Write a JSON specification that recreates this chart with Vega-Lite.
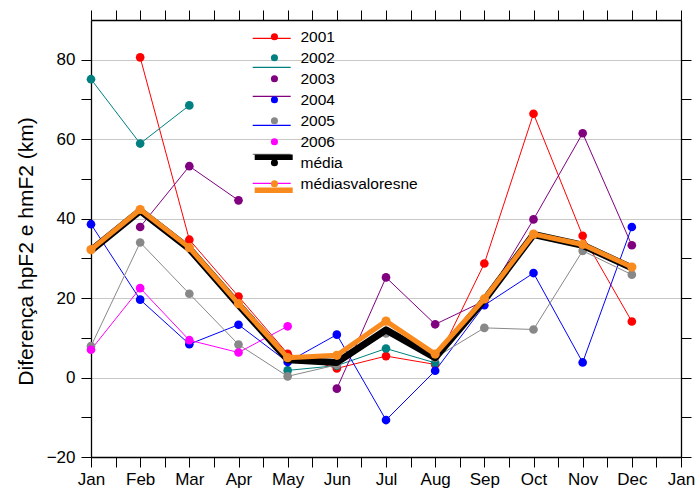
{
  "$schema": "https://vega.github.io/schema/vega-lite/v6.json",
  "width": 590,
  "height": 437,
  "autosize": "none",
  "padding": {"left": 91, "top": 20, "right": 15, "bottom": 33},
  "background": "white",
  "config": {
    "view": {"stroke": null},
    "font": "Liberation Sans",
    "axis": {
      "labelFont": "Liberation Sans",
      "labelColor": "black",
      "labelFontSize": 17,
      "tickColor": "black",
      "tickWidth": 1,
      "tickSize": 10,
      "domainColor": "black",
      "domainWidth": 1.3,
      "labelOverlap": false,
      "labelFlush": false,
      "labelBound": false
    },
    "legend": {"labelFont": "Liberation Sans"}
  },
  "datasets": {
    "d": [
      {"s": "2001", "m": 2, "v": 80.6}, {"s": "2001", "m": 3, "v": 34.7}, {"s": "2001", "m": 4, "v": 20.4},
      {"s": "2001", "m": 5, "v": 6.0}, {"s": "2001", "m": 6, "v": 2.3}, {"s": "2001", "m": 7, "v": 5.4},
      {"s": "2001", "m": 8, "v": 3.3}, {"s": "2001", "m": 9, "v": 28.7}, {"s": "2001", "m": 10, "v": 66.4},
      {"s": "2001", "m": 11, "v": 35.7}, {"s": "2001", "m": 12, "v": 14.1},
      {"s": "2002", "g": "a", "m": 1, "v": 75.1}, {"s": "2002", "g": "a", "m": 2, "v": 58.9}, {"s": "2002", "g": "a", "m": 3, "v": 68.5},
      {"s": "2002", "g": "b", "m": 5, "v": 1.8}, {"s": "2002", "g": "b", "m": 6, "v": 3.0},
      {"s": "2002", "g": "b", "m": 7, "v": 7.3}, {"s": "2002", "g": "b", "m": 8, "v": 3.7},
      {"s": "2003", "g": "a", "m": 2, "v": 37.9}, {"s": "2003", "g": "a", "m": 3, "v": 53.2}, {"s": "2003", "g": "a", "m": 4, "v": 44.6},
      {"s": "2003", "g": "b", "m": 6, "v": -2.8}, {"s": "2003", "g": "b", "m": 7, "v": 25.2},
      {"s": "2003", "g": "b", "m": 8, "v": 13.4}, {"s": "2003", "g": "b", "m": 9, "v": 19.3}, {"s": "2003", "g": "b", "m": 10, "v": 39.8},
      {"s": "2003", "g": "b", "m": 11, "v": 61.5}, {"s": "2003", "g": "b", "m": 12, "v": 33.3},
      {"s": "2004", "m": 1, "v": 38.6}, {"s": "2004", "m": 2, "v": 19.6}, {"s": "2004", "m": 3, "v": 8.4},
      {"s": "2004", "m": 4, "v": 13.3}, {"s": "2004", "m": 5, "v": 3.9}, {"s": "2004", "m": 6, "v": 10.8},
      {"s": "2004", "m": 7, "v": -10.7}, {"s": "2004", "m": 8, "v": 1.7}, {"s": "2004", "m": 9, "v": 18.2},
      {"s": "2004", "m": 10, "v": 26.3}, {"s": "2004", "m": 11, "v": 3.8}, {"s": "2004", "m": 12, "v": 37.9},
      {"s": "2005", "m": 1, "v": 7.9}, {"s": "2005", "m": 2, "v": 34.0}, {"s": "2005", "m": 3, "v": 21.1},
      {"s": "2005", "m": 4, "v": 8.3}, {"s": "2005", "m": 5, "v": 0.3}, {"s": "2005", "m": 6, "v": 3.2},
      {"s": "2005", "m": 7, "v": 11.1}, {"s": "2005", "m": 8, "v": 5.0}, {"s": "2005", "m": 9, "v": 12.5},
      {"s": "2005", "m": 10, "v": 12.1}, {"s": "2005", "m": 11, "v": 31.9}, {"s": "2005", "m": 12, "v": 25.9},
      {"s": "2006", "m": 1, "v": 7.0}, {"s": "2006", "m": 2, "v": 22.5}, {"s": "2006", "m": 3, "v": 9.4},
      {"s": "2006", "m": 4, "v": 6.3}, {"s": "2006", "m": 5, "v": 12.9},
      {"s": "média", "m": 1, "v": 32.0}, {"s": "média", "m": 2, "v": 42.0}, {"s": "média", "m": 3, "v": 32.4},
      {"s": "média", "m": 4, "v": 18.3}, {"s": "média", "m": 5, "v": 4.5}, {"s": "média", "m": 6, "v": 3.8},
      {"s": "média", "m": 7, "v": 12.0}, {"s": "média", "m": 8, "v": 5.0}, {"s": "média", "m": 9, "v": 19.5},
      {"s": "média", "m": 10, "v": 36.0}, {"s": "média", "m": 11, "v": 33.3}, {"s": "média", "m": 12, "v": 27.6},
      {"s": "médiasvaloresne", "m": 1, "v": 32.2}, {"s": "médiasvaloresne", "m": 2, "v": 42.3},
      {"s": "médiasvaloresne", "m": 3, "v": 32.7}, {"s": "médiasvaloresne", "m": 4, "v": 18.6},
      {"s": "médiasvaloresne", "m": 5, "v": 5.0}, {"s": "médiasvaloresne", "m": 6, "v": 5.6},
      {"s": "médiasvaloresne", "m": 7, "v": 14.2}, {"s": "médiasvaloresne", "m": 8, "v": 5.9},
      {"s": "médiasvaloresne", "m": 9, "v": 19.8}, {"s": "médiasvaloresne", "m": 10, "v": 36.1},
      {"s": "médiasvaloresne", "m": 11, "v": 33.5}, {"s": "médiasvaloresne", "m": 12, "v": 27.8}
    ]
  },
  "data": {"name": "d"},
  "encoding": {
    "x": {"field": "m", "type": "quantitative", "scale": {"domain": [1, 13], "nice": false, "zero": false}, "axis": null},
    "y": {"field": "v", "type": "quantitative", "scale": {"domain": [-20, 90], "nice": false, "zero": false}, "axis": null}
  },
  "layer": [
    {
      "transform": [{"filter": "length(datum.s) === 4"}],
      "mark": {"type": "line", "strokeWidth": 1},
      "encoding": {
        "x": {
          "field": "m", "type": "quantitative",
          "axis": {
            "orient": "bottom",
            "values": [1, 1.5, 2, 2.5, 3, 3.5, 4, 4.5, 5, 5.5, 6, 6.5, 7, 7.5, 8, 8.5, 9, 9.5, 10, 10.5, 11, 11.5, 12, 12.5, 13],
            "labelExpr": "datum.value % 1 === 0 ? ['Jan','Feb','Mar','Apr','May','Jun','Jul','Aug','Sep','Oct','Nov','Dec','Jan'][datum.value - 1] : ''",
            "labelPadding": 4,
            "grid": false,
            "title": null,
            "encode": {"ticks": {"update": {"y2": {"signal": "datum.value % 1 === 0 ? 10 : 5.5"}}}}
          }
        },
        "y": {
          "field": "v", "type": "quantitative",
          "axis": {
            "orient": "left",
            "values": [-20, -10, 0, 10, 20, 30, 40, 50, 60, 70, 80],
            "labelExpr": "datum.value % 20 === 0 ? datum.label : ''",
            "labelPadding": 6,
            "grid": true,
            "gridColor": "#c8c8c8",
            "gridWidth": 1,
            "gridOpacity": {"condition": {"test": "datum.value % 20 === 0 && datum.value > -20", "value": 1}, "value": 0},
            "title": "Diferença hpF2 e hmF2 (km)",
            "titleFont": "Liberation Sans",
            "titleFontSize": 21,
            "titleFontWeight": "normal",
            "titleColor": "black",
            "titleAngle": -90,
            "titleAlign": "center",
            "titleBaseline": "alphabetic",
            "titleX": -59,
            "titleY": 231,
            "encode": {"ticks": {"update": {"x2": {"signal": "datum.value % 20 === 0 ? -10 : -5.5"}}}}
          }
        },
        "detail": {"field": "g", "type": "nominal"},
        "color": {
          "field": "s", "type": "nominal",
          "scale": {
            "domain": ["2001", "2002", "2003", "2004", "2005", "2006"],
            "range": ["#ff0000", "#008080", "#800080", "#0000ff", "#888888", "#ff00ff"]
          },
          "legend": {
            "orient": "none", "legendX": 160.7, "legendY": -1.7, "title": null,
            "symbolType": "stroke", "symbolSize": 1444, "symbolStrokeWidth": 1.2,
            "labelExpr": "''", "labelFontSize": 15.5,
            "rowPadding": -18.5, "padding": 0
          }
        }
      }
    },
    {
      "transform": [{"filter": "length(datum.s) === 4"}],
      "mark": {"type": "point", "filled": true, "size": 75, "opacity": 1},
      "encoding": {
        "fill": {
          "field": "s", "type": "nominal",
          "scale": {"range": ["#ff0000", "#008080", "#800080", "#0000ff", "#888888", "#ff00ff", "#000000", "#f98a1e"]},
          "legend": {
            "orient": "none", "legendX": 175.7, "legendY": 9, "title": null,
            "symbolType": "circle", "symbolSize": 50, "symbolStrokeWidth": 0,
            "labelFontSize": 15.5, "labelColor": "black", "labelOffset": 18.3,
            "rowPadding": 4, "padding": 0
          }
        }
      }
    },
    {
      "transform": [{"filter": "datum.s === 'média'"}],
      "mark": {"type": "line", "strokeWidth": 7, "strokeJoin": "round"},
      "encoding": {
        "stroke": {
          "field": "s", "type": "nominal",
          "scale": {"range": ["#000000", "#f98a1e"]},
          "legend": {
            "orient": "none", "legendX": 160.7, "legendY": 115.3, "title": null,
            "symbolType": "stroke", "symbolSize": 1444, "symbolStrokeWidth": 5.5,
            "labelExpr": "''", "labelFontSize": 15.5,
            "rowPadding": -18.5, "padding": 0
          }
        }
      }
    },
    {
      "transform": [{"filter": "datum.s === 'média'"}],
      "mark": {"type": "point", "filled": true, "size": 28, "opacity": 1},
      "encoding": {
        "fill": {"field": "s", "type": "nominal"}
      }
    },
    {
      "transform": [{"filter": "datum.s === 'médiasvaloresne'"}],
      "mark": {"type": "line", "strokeWidth": 5, "strokeJoin": "round"},
      "encoding": {
        "stroke": {"field": "s", "type": "nominal"}
      }
    },
    {
      "transform": [{"filter": "datum.s === 'médiasvaloresne'"}],
      "mark": {"type": "point", "filled": true, "size": 85, "opacity": 1},
      "encoding": {
        "fill": {"field": "s", "type": "nominal"}
      }
    },
    {
      "transform": [{"filter": "datum.s === 'média'"}],
      "mark": {"type": "point", "opacity": 0},
      "encoding": {
        "x": {
          "field": "m", "type": "quantitative",
          "axis": {
            "orient": "top",
            "values": [1, 1.5, 2, 2.5, 3, 3.5, 4, 4.5, 5, 5.5, 6, 6.5, 7, 7.5, 8, 8.5, 9, 9.5, 10, 10.5, 11, 11.5, 12, 12.5, 13],
            "labels": false,
            "grid": false,
            "title": null,
            "encode": {"ticks": {"update": {"y2": {"signal": "datum.value % 1 === 0 ? -10 : -5.5"}}}}
          }
        },
        "y": {
          "field": "v", "type": "quantitative",
          "axis": {
            "orient": "right",
            "values": [-20, -10, 0, 10, 20, 30, 40, 50, 60, 70, 80],
            "labels": false,
            "grid": false,
            "title": null,
            "encode": {"ticks": {"update": {"x2": {"signal": "datum.value % 20 === 0 ? 10 : 5.5"}}}}
          }
        }
      }
    }
  ],
  "resolve": {"axis": {"x": "independent", "y": "independent"}}
}
